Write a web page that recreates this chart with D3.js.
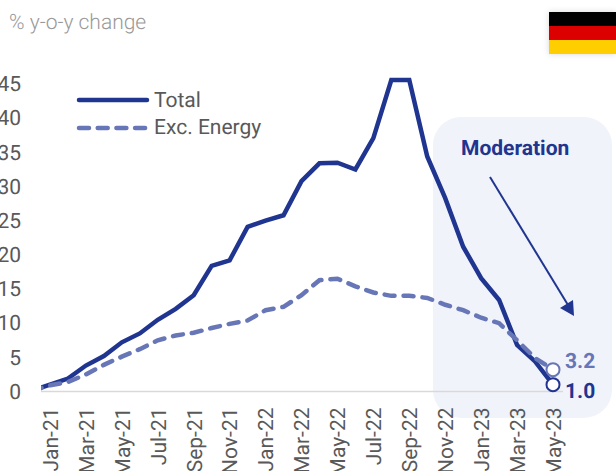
<!DOCTYPE html>
<html>
<head>
<meta charset="utf-8">
<script src="https://cdn.jsdelivr.net/npm/d3@7"></script>
<style>
  html, body { margin: 0; padding: 0; background: #fff; overflow: hidden; }
  svg { display: block; font-family: Roboto, sans-serif; text-rendering: geometricPrecision; }
</style>
</head>
<body>
<div id="vis"></div>
<script>
const FRAME_WIDTH = 616;
const FRAME_HEIGHT = 471;
const NAVY = "#1f3590";
const PERIWINKLE = "#6776b6";

// Dec-20 sits left of the visible plot, the line is clipped where the axis starts
const MONTHS = ["Dec-20", "Jan-21", "Feb-21", "Mar-21", "Apr-21", "May-21", "Jun-21", "Jul-21", "Aug-21", "Sep-21", "Oct-21", "Nov-21", "Dec-21",
  "Jan-22", "Feb-22", "Mar-22", "Apr-22", "May-22", "Jun-22", "Jul-22", "Aug-22", "Sep-22", "Oct-22", "Nov-22", "Dec-22",
  "Jan-23", "Feb-23", "Mar-23", "Apr-23", "May-23"];
const TICK_MONTHS = ["Jan-21", "Mar-21", "May-21", "Jul-21", "Sep-21", "Nov-21", "Jan-22", "Mar-22", "May-22", "Jul-22", "Sep-22", "Nov-22", "Jan-23", "Mar-23", "May-23"];
const TICK_VALUES = [0, 5, 10, 15, 20, 25, 30, 35, 40, 45];
const TOTAL = [0.1, 1.0, 1.9, 3.8, 5.2, 7.2, 8.5, 10.5, 12.1, 14.1, 18.4, 19.2, 24.1,
  25.0, 25.8, 30.8, 33.4, 33.5, 32.5, 37.1, 45.6, 45.6, 34.4, 28.3, 21.2,
  16.6, 13.4, 6.8, 4.4, 1.0];
const EXC_ENERGY = [0.1, 0.9, 1.4, 2.5, 3.9, 5.1, 6.2, 7.5, 8.2, 8.6, 9.3, 9.9, 10.4,
  11.9, 12.4, 14.1, 16.3, 16.5, 15.4, 14.5, 14.0, 14.0, 13.7, 12.7, 11.9,
  10.8, 10.0, 7.5, 4.9, 3.2];
const FLAG_COLORS = ["#000000", "#dd0000", "#ffce00"];

const FRAME = d3.select("#vis")
  .append("svg")
  .attr("width", FRAME_WIDTH)
  .attr("height", FRAME_HEIGHT);

const X_SCALE = d3.scalePoint().domain(MONTHS).range([32, 553]);
const Y_SCALE = d3.scaleLinear().domain([0, 45.6]).range([391.5, 80]);

FRAME.append("defs").append("clipPath")
  .attr("id", "plot-clip")
  .append("rect")
  .attr("x", 41).attr("y", 0)
  .attr("width", 575).attr("height", FRAME_HEIGHT);

// shaded panel behind the last months
FRAME.append("rect")
  .attr("x", 433).attr("y", 117)
  .attr("width", 179).attr("height", 301)
  .attr("rx", 28)
  .attr("fill", "#f1f3fa");

// baseline
FRAME.append("line")
  .attr("x1", 41).attr("x2", 563)
  .attr("y1", Y_SCALE(0)).attr("y2", Y_SCALE(0))
  .attr("stroke", "#d9d9d9")
  .attr("stroke-width", 1.5);

const X_AXIS = FRAME.append("g")
  .attr("transform", `translate(0, ${Y_SCALE(0)})`)
  .call(d3.axisBottom(X_SCALE).tickValues(TICK_MONTHS).tickSize(0));
X_AXIS.select(".domain").remove();
X_AXIS.selectAll("text")
  .attr("transform", "rotate(-90)")
  .attr("x", -16)
  .attr("y", 0)
  .attr("dy", "0.35em")
  .attr("text-anchor", "end")
  .attr("font-size", 21)
  .attr("font-family", "Roboto, sans-serif")
  .attr("fill", "#595959");

const Y_AXIS = FRAME.append("g")
  .attr("transform", "translate(21, 0)")
  .call(d3.axisLeft(Y_SCALE).tickValues(TICK_VALUES).tickSize(0).tickPadding(0));
Y_AXIS.select(".domain").remove();
Y_AXIS.selectAll("text")
  .attr("font-size", 21)
  .attr("font-family", "Roboto, sans-serif")
  .attr("fill", "#595959");

const LINE = d3.line()
  .x((d, i) => X_SCALE(MONTHS[i]))
  .y((d) => Y_SCALE(d));

const PLOT = FRAME.append("g").attr("clip-path", "url(#plot-clip)");

PLOT.append("path")
  .attr("d", LINE(TOTAL))
  .attr("fill", "none")
  .attr("stroke", NAVY)
  .attr("stroke-width", 4.5);

PLOT.append("path")
  .attr("d", LINE(EXC_ENERGY))
  .attr("fill", "none")
  .attr("stroke", PERIWINKLE)
  .attr("stroke-width", 4.5)
  .attr("stroke-linecap", "round")
  .attr("stroke-dasharray", "10 9");

// end markers
const LAST = MONTHS[MONTHS.length - 1];
[[EXC_ENERGY, PERIWINKLE, "3.2", 368], [TOTAL, NAVY, "1.0", 398]].forEach(([series, color, label, baseline]) => {
  const value = series[series.length - 1];
  FRAME.append("circle")
    .attr("cx", X_SCALE(LAST))
    .attr("cy", Y_SCALE(value))
    .attr("r", 6.5)
    .attr("fill", "#fff")
    .attr("stroke", color)
    .attr("stroke-width", 2);
  FRAME.append("text")
    .attr("x", 565)
    .attr("y", baseline)
    .attr("font-size", 21)
    .attr("font-weight", 700)
    .attr("fill", color)
    .text(label);
});

// legend
FRAME.append("line")
  .attr("x1", 79).attr("x2", 147)
  .attr("y1", 100).attr("y2", 100)
  .attr("stroke", NAVY)
  .attr("stroke-width", 4.5)
  .attr("stroke-linecap", "round");
FRAME.append("line")
  .attr("x1", 79).attr("x2", 147)
  .attr("y1", 128).attr("y2", 128)
  .attr("stroke", PERIWINKLE)
  .attr("stroke-width", 4.5)
  .attr("stroke-linecap", "round")
  .attr("stroke-dasharray", "10 8.7");
FRAME.append("text")
  .attr("x", 154).attr("y", 107)
  .attr("font-size", 21)
  .attr("fill", "#595959")
  .text("Total");
FRAME.append("text")
  .attr("x", 154).attr("y", 134)
  .attr("font-size", 21)
  .attr("fill", "#595959")
  .text("Exc. Energy");

FRAME.append("text")
  .attr("x", 9).attr("y", 29)
  .attr("font-size", 21)
  .attr("font-weight", 300)
  .attr("fill", "#999999")
  .text("% y-o-y change");

// annotation
FRAME.append("text")
  .attr("x", 461).attr("y", 155)
  .attr("font-size", 21)
  .attr("font-weight", 700)
  .attr("fill", NAVY)
  .text("Moderation");

FRAME.append("line")
  .attr("x1", 490).attr("y1", 177)
  .attr("x2", 568).attr("y2", 305)
  .attr("stroke", NAVY)
  .attr("stroke-width", 2);
FRAME.append("path")
  .attr("d", "M574,316L560,308L573,300Z")
  .attr("fill", NAVY);

// flag
FRAME.append("g")
  .style("filter", "drop-shadow(0 0 3px rgba(0,0,0,0.15))")
  .selectAll("rect")
  .data(FLAG_COLORS)
  .enter()
  .append("rect")
  .attr("x", 549)
  .attr("y", (d, i) => 12 + i * 14)
  .attr("width", 67)
  .attr("height", 14)
  .attr("fill", (d) => d);
</script>
</body>
</html>
